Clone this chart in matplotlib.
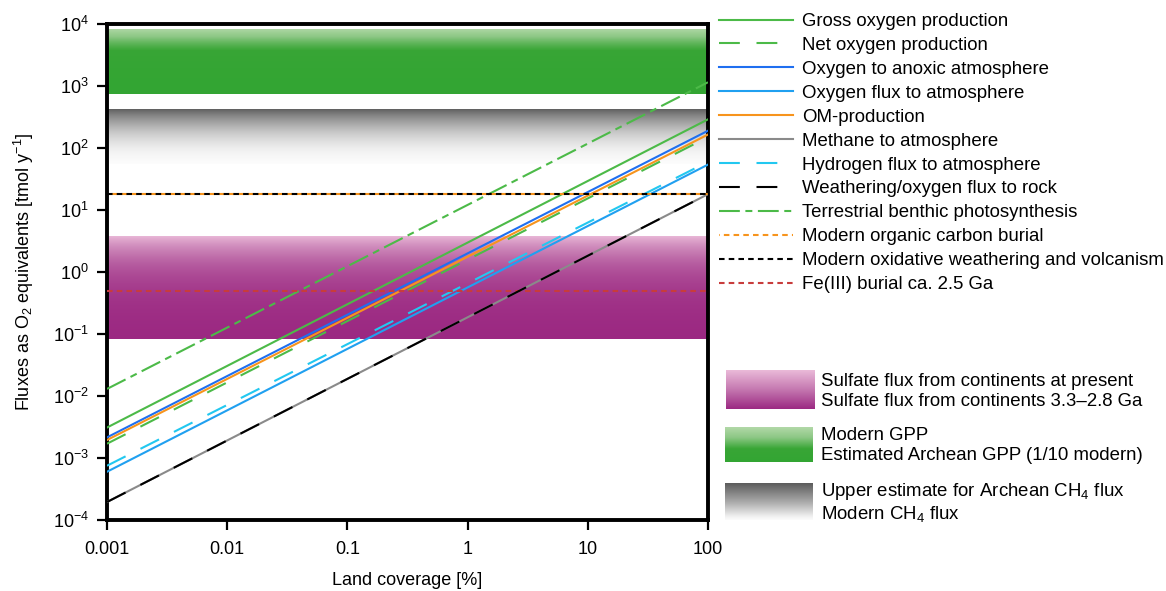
import numpy as np
import matplotlib
matplotlib.use("Agg")
import matplotlib.pyplot as plt
from matplotlib.ticker import FixedLocator, FixedFormatter, NullLocator

plt.rcParams['font.family'] = ['Liberation Sans', 'DejaVu Sans']
plt.rcParams['mathtext.default'] = 'regular'
plt.rcParams['lines.scale_dashes'] = False

# ---------------- data ----------------
x_range = [0.001, 100]          # land coverage [%]

series_names = ["Gross oxygen production", "Net oxygen production",
                "Oxygen to anoxic atmosphere", "Oxygen flux to atmosphere",
                "OM-production", "Methane to atmosphere",
                "Hydrogen flux to atmosphere", "Weathering/oxygen flux to rock",
                "Terrestrial benthic photosynthesis"]
series_start = [3.1e-3, 1.7e-3, 2.15e-3, 6.0e-4, 1.95e-3, 1.95e-4, 7.5e-4, 1.95e-4, 1.3e-2]
series_end = [290, 150, 190, 54, 165, 18, 60, 18, 1150]

hline_names = ["Modern organic carbon burial",
               "Modern oxidative weathering and volcanism",
               "Fe(III) burial ca. 2.5 Ga"]
hline_values = [18.0, 18.0, 0.5]

band_names = [("Sulfate flux from continents at present", "Sulfate flux from continents 3.3\u20132.8 Ga"),
              ("Modern GPP", "Estimated Archean GPP (1/10 modern)"),
              ("Upper estimate for Archean CH$_4$ flux", "Modern CH$_4$ flux")]
band_low = [0.082, 750, 55]
band_high = [3.8, 8500, 425]

x_ticks = [0.001, 0.01, 0.1, 1, 10, 100]
x_ticklabels = ["0.001", "0.01", "0.1", "1", "10", "100"]
y_ticks = [1e-4, 1e-3, 1e-2, 1e-1, 1, 10, 100, 1e3, 1e4]

# ---------------- styles ----------------
GREEN = '#4cba48'
series_style = [
    dict(color=GREEN, ls='-'),
    dict(color=GREEN, dashes=(15, 12)),
    dict(color='#1f6ff0', ls='-'),
    dict(color='#20a0f0', ls='-'),
    dict(color='#f7941d', ls='-'),
    dict(color='#8a8a8a', ls='-'),
    dict(color='#22c8f0', dashes=(15, 12)),
    dict(color='black', dashes=(15, 12)),
    dict(color=GREEN, dashes=(15, 4, 5, 4)),
]
draw_order = [8, 0, 2, 4, 1, 6, 3, 5, 7]
hline_style = [dict(color='#f7941d', ls=(3.5, (4.0, 3.0))),
               dict(color='black', ls=(0, (4.0, 3.0))),
               dict(color='#c83c3c', ls=(0, (4.0, 3.0)))]

FS = 13.4


def gradient(stops, n=256):
    pos = np.array([s[0] for s in stops])
    cols = np.array([s[1] for s in stops])
    t = np.linspace(0, 1, n)
    arr = np.stack([np.interp(t, pos, cols[:, i]) for i in range(3)], axis=1)
    return arr.reshape(n, 1, 3)


purple_grad = gradient([(0.0, (0.92, 0.73, 0.85)), (0.5, (0.77, 0.47, 0.69)), (1.0, (0.61, 0.16, 0.51))])
green_grad = gradient([(0.0, (0.70, 0.85, 0.66)), (0.3, (0.55, 0.78, 0.52)),
                       (0.62, (0.22, 0.65, 0.21)), (1.0, (0.20, 0.65, 0.20))])
gray_grad = gradient([(0.0, (0.36, 0.36, 0.36)), (0.5, (0.66, 0.66, 0.66)),
                      (0.9, (0.94, 0.94, 0.94)), (1.0, (0.99, 0.99, 0.99))])
band_grads = [purple_grad, green_grad, gray_grad]

# ---------------- figure ----------------
fig = plt.figure(figsize=(11.66, 5.91), dpi=100)
ax = fig.add_axes([107 / 1166, 71 / 591, 601 / 1166, 496 / 591])
ax.set_xscale('log')
ax.set_yscale('log')

for lo, hi, g in zip(band_low, band_high, band_grads):
    ax.imshow(g, extent=[x_range[0], x_range[1], lo, hi], aspect='auto',
              origin='upper', interpolation='bilinear', zorder=0)

handles = [None] * len(series_names)
for i in draw_order:
    ln, = ax.plot(x_range, [series_start[i], series_end[i]], lw=1.5,
                  label=series_names[i], zorder=3 + (1 if i == 7 else 0),
                  **series_style[i])
    handles[i] = ln

for name, v, st in zip(hline_names, hline_values, hline_style):
    ln, = ax.plot(x_range, [v, v], lw=1.5, label=name, zorder=3, **st)
    handles.append(ln)

ax.set_xlim(x_range)
ax.set_ylim(1e-4, 1e4)

ax.xaxis.set_major_locator(FixedLocator(x_ticks))
ax.xaxis.set_major_formatter(FixedFormatter(x_ticklabels))
ax.xaxis.set_minor_locator(NullLocator())
ax.yaxis.set_major_locator(FixedLocator(y_ticks))
ax.yaxis.set_minor_locator(NullLocator())
ax.tick_params(axis='both', which='major', direction='out', length=7, width=1.6,
               labelsize=13)
ax.tick_params(axis='x', pad=8)
ax.tick_params(axis='y', pad=6)
for sp in ax.spines.values():
    sp.set_linewidth(2.8)
ax.set_xlabel("Land coverage [%]", fontsize=13, labelpad=10)
ax.set_ylabel("Fluxes as O$_2$ equivalents [tmol y$^{-1}$]", fontsize=13, labelpad=12)

leg = fig.legend(handles=handles, loc='upper left',
                 bbox_to_anchor=(719 / 1166, 1 - 13 / 591), frameon=False,
                 fontsize=FS, handlelength=3.95, handletextpad=0.5,
                 labelspacing=0.37, borderaxespad=0, borderpad=0)

# gradient legend entries
patch_boxes = [(726, 370, 89, 39), (725, 427, 88, 35), (725, 483, 88, 37)]
text_rows = [(381, 402), (435, 456), (492, 514)]
for (px, py, pw, ph), g, (t1, t2), (n1, n2) in zip(patch_boxes, band_grads, text_rows, band_names):
    pax = fig.add_axes([px / 1166, 1 - (py + ph) / 591, pw / 1166, ph / 591])
    pax.imshow(g, aspect='auto', interpolation='bilinear')
    pax.set_axis_off()
    fig.text(821 / 1166, 1 - t1 / 591, n1, fontsize=FS, va='center', ha='left')
    fig.text(821 / 1166, 1 - t2 / 591, n2, fontsize=FS, va='center', ha='left')

fig.savefig("out.png", dpi=100)
